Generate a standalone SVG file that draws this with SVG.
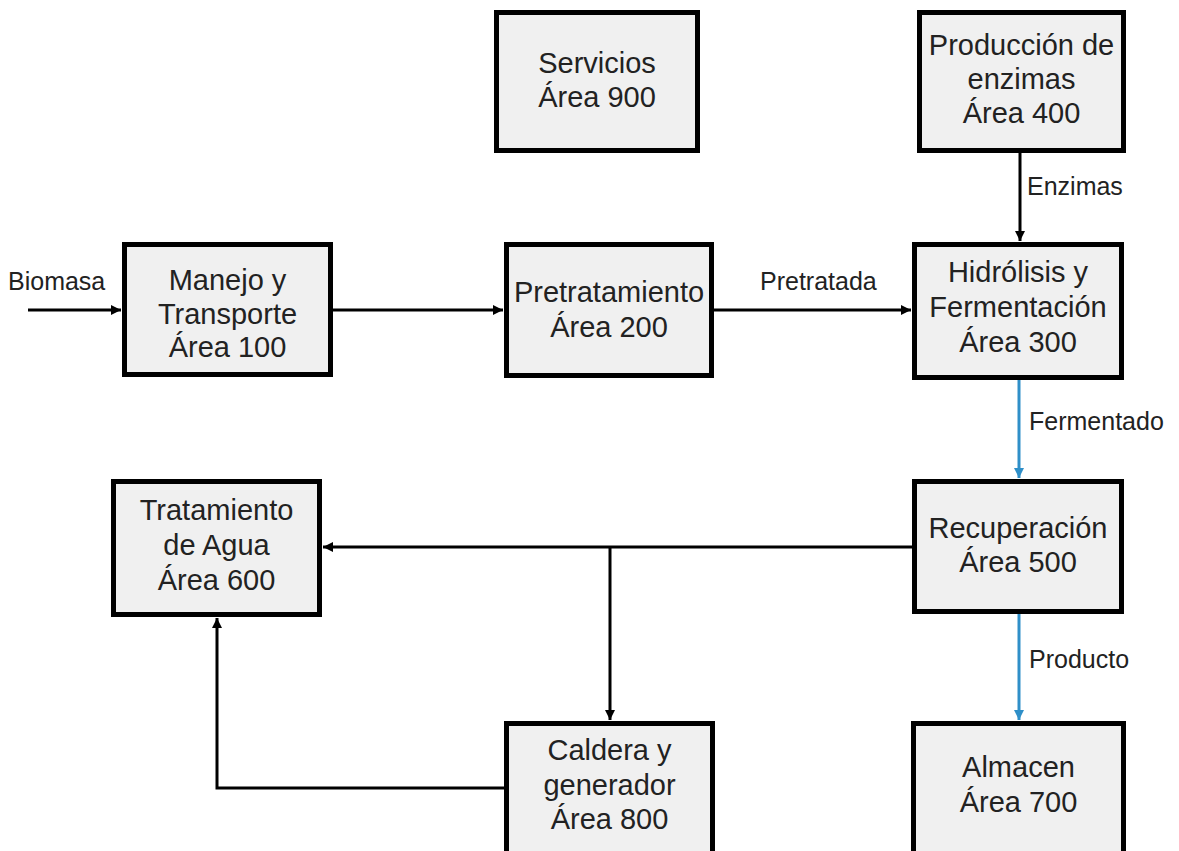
<svg xmlns="http://www.w3.org/2000/svg" width="1179" height="851" viewBox="0 0 1179 851">
<style>
.box{fill:#f0f0f0;stroke:#000;stroke-width:5}
.bt{font-family:"Liberation Sans",Arial,sans-serif;font-size:29px;fill:#222;text-anchor:middle}
.lb{font-family:"Liberation Sans",Arial,sans-serif;font-size:25px;fill:#222}
.c{fill:none;stroke:#000;stroke-width:3}
.cb{fill:none;stroke:#2f8fc8;stroke-width:3}
</style>
<defs>
<marker id="ah" markerUnits="userSpaceOnUse" markerWidth="12" markerHeight="12" refX="10" refY="5" orient="auto"><path d="M0,0 L10,5 L0,10 z" fill="#000"/></marker>
<marker id="ahb" markerUnits="userSpaceOnUse" markerWidth="12" markerHeight="12" refX="10" refY="5" orient="auto"><path d="M0,0 L10,5 L0,10 z" fill="#2f8fc8"/></marker>
</defs>
<rect width="1179" height="851" fill="#fff"/>
<g id="connectors">
<path class="c" d="M28,310 H121" marker-end="url(#ah)"/>
<path class="c" d="M333,310 H503" marker-end="url(#ah)"/>
<path class="c" d="M714,310 H911" marker-end="url(#ah)"/>
<path class="c" d="M1020,153 V241" marker-end="url(#ah)"/>
<path class="cb" d="M1019,380 V478" marker-end="url(#ahb)"/>
<path class="c" d="M912,547 H323" marker-end="url(#ah)"/>
<path class="c" d="M610,547 V720" marker-end="url(#ah)"/>
<path class="c" d="M504,788 H217 V618" marker-end="url(#ah)"/>
<path class="cb" d="M1019,614 V720" marker-end="url(#ahb)"/>
<text class="lb" x="8" y="290">Biomasa</text>
<text class="lb" x="760" y="290">Pretratada</text>
<text class="lb" x="1027" y="195">Enzimas</text>
<text class="lb" x="1029" y="430">Fermentado</text>
<text class="lb" x="1029" y="668">Producto</text>
</g>
<g id="n900"><rect class="box" x="496.5" y="12.5" width="201" height="138"/><text class="bt" x="597" y="73">Servicios</text><text class="bt" x="597" y="107">Área 900</text></g>
<g id="n400"><rect class="box" x="919.5" y="12.5" width="204" height="138"/><text class="bt" x="1021.5" y="55">Producción de</text><text class="bt" x="1021.5" y="89">enzimas</text><text class="bt" x="1021.5" y="123">Área 400</text></g>
<g id="n100"><rect class="box" x="124.5" y="244.5" width="206" height="130"/><text class="bt" x="227.5" y="290">Manejo y</text><text class="bt" x="227.5" y="324">Transporte</text><text class="bt" x="227.5" y="357">Área 100</text></g>
<g id="n200"><rect class="box" x="506.5" y="244.5" width="205" height="131"/><text class="bt" x="609" y="302">Pretratamiento</text><text class="bt" x="609" y="337">Área 200</text></g>
<g id="n300"><rect class="box" x="914.5" y="244.5" width="207" height="133"/><text class="bt" x="1018" y="282">Hidrólisis y</text><text class="bt" x="1018" y="317">Fermentación</text><text class="bt" x="1018" y="352">Área 300</text></g>
<g id="n500"><rect class="box" x="914.5" y="481.5" width="207" height="130"/><text class="bt" x="1018" y="538">Recuperación</text><text class="bt" x="1018" y="572">Área 500</text></g>
<g id="n600"><rect class="box" x="113.5" y="481.5" width="206" height="133"/><text class="bt" x="216.5" y="520">Tratamiento</text><text class="bt" x="216.5" y="555">de Agua</text><text class="bt" x="216.5" y="590">Área 600</text></g>
<g id="n800"><rect class="box" x="506.5" y="723.5" width="206" height="140"/><text class="bt" x="609.5" y="760">Caldera y</text><text class="bt" x="609.5" y="795">generador</text><text class="bt" x="609.5" y="829">Área 800</text></g>
<g id="n700"><rect class="box" x="913.5" y="723.5" width="210" height="140"/><text class="bt" x="1018.5" y="777">Almacen</text><text class="bt" x="1018.5" y="812">Área 700</text></g>
</svg>
